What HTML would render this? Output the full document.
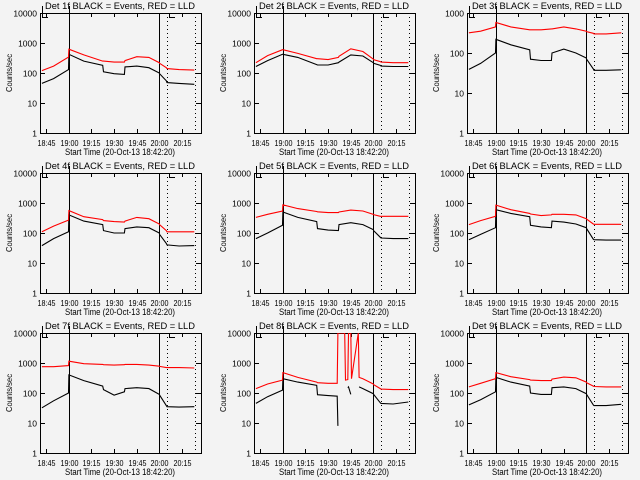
<!DOCTYPE html>
<html><head><meta charset="utf-8"><style>
html,body{margin:0;padding:0;background:#f3f3f3;}
svg{display:block;font-family:"Liberation Sans",sans-serif;}
</style></head><body>
<svg id="chart" width="640" height="480" viewBox="0 0 640 480"></svg>
<script>
// ---- data (minutes since 18:45) ----
const times = [-2.7, 5, 14.9, 15.1, 25, 37.5, 38, 45, 51.8, 52.2, 60, 68, 74.9, 75.1, 79.5, 80, 88, 98];
const times8 = [-2.7, 5, 14.9, 15.1, 25, 37.5, 38, 45, 51, 51.5, 56, 56.5, 58, 58.5, 60, 60.5, 65, 65.5, 68, 74.9, 75.1, 79.5, 80, 88, 98];
const detNames = ["Det 1f","Det 2f","Det 3f","Det 4f","Det 5f","Det 6f","Det 7f","Det 8f","Det 9f"];
const black1 = [45,65,130,420,250,180,110,95,90,160,170,150,100,95,55,48,45,42];
const red1   = [120,170,340,620,400,250,250,230,230,260,350,330,220,210,150,140,130,125];
const black2 = [165,260,420,420,330,190,185,185,220,230,400,370,220,210,180,170,165,165];
const red2   = [220,380,600,600,450,300,300,280,330,360,640,520,290,280,240,230,220,220];
const black3 = [39,55,100,220,160,120,70,65,65,100,125,100,75,70,40,37,37,38];
const red3   = [320,350,450,580,450,380,380,380,400,400,450,400,350,340,310,300,300,320];
const black4 = [38,65,110,400,250,190,120,100,100,140,160,150,100,90,45,40,37,38];
const red4   = [110,170,270,560,350,280,260,240,230,250,330,300,200,190,120,110,110,110];
const black5 = [65,100,180,500,330,240,140,125,120,190,220,190,130,120,72,68,65,65];
const red5   = [330,420,540,870,650,520,510,480,480,500,580,540,420,410,360,360,360,360];
const black6 = [60,90,150,600,450,350,180,160,150,250,230,200,150,140,62,60,58,58];
const red6   = [190,260,360,850,600,450,430,380,400,420,420,400,300,290,200,195,195,195];
const black7 = [32,55,100,400,260,170,130,85,110,140,150,140,90,85,38,35,34,35];
const red7   = [750,750,820,1150,950,900,880,850,880,900,900,850,780,770,700,700,700,680];
const black8 = [45,75,125,300,230,180,88,82,78,8,null,null,150,160,90,null,null,160,140,95,90,47,45,43,50];
const red8   = [140,200,270,480,330,230,220,210,210,10000,10000,270,280,10000,10000,300,10000,330,300,200,190,140,135,130,130];
const black9 = [40,60,110,330,230,170,100,90,90,150,160,140,95,90,40,38,38,42];
const red9   = [160,210,300,480,350,280,270,260,260,290,340,320,230,220,170,165,160,160];
const blacks = [black1,black2,black3,black4,black5,black6,black7,black8,black9];
const reds = [red1,red2,red3,red4,red5,red6,red7,red8,red9];
const decadesTop = [4,4,3,4,4,4,4,4,4];
const xTickLabels = ["18:45","19:00","19:15","19:30","19:45","20:00","20:15"];
const xTickTimes = [0,15,30,45,60,75,90];
const yTickLabels = ["1","10","100","1000","10000"];
const solidLines = [15,75];
const dottedLines = [80,98.5];

const NS="http://www.w3.org/2000/svg";
const svg=document.getElementById('chart');
function el(tag,attrs,parent){const e=document.createElementNS(NS,tag);for(const k in attrs)e.setAttribute(k,attrs[k]);(parent||svg).appendChild(e);return e;}
const L=40,R=201,T=13,B=133;
function xs(t){return 68.7+(t-15)*1.513;}

for(let p=0;p<9;p++){
  const ox=[0,214,427][p%3], oy=[0,160,320][Math.floor(p/3)];
  const g=el('g',{transform:`translate(${ox},${oy})`});
  
  
  const top=decadesTop[p];
  const ys=v=>B-(Math.log10(Math.max(v,1)))*(B-T)/top;
  const cid='clip'+p;
  const cp=el('clipPath',{id:cid},g);el('rect',{x:L,y:T,width:R-L,height:B-T},cp);
  const title=el('text',{x:120,y:9,'font-size':9.5,'text-anchor':'middle',textLength:150,lengthAdjust:'spacingAndGlyphs'},g);
  title.textContent=detNames[p]+" BLACK = Events, RED = LLD";
  
  
  const box=el('rect',{x:L+0.5,y:T+0.5,width:R-L,height:B-T,fill:'none',stroke:'#000','stroke-width':1},g);
  
  
  for(let d=0;d<=top;d++){
    const y=Math.round(ys(Math.pow(10,d)))+0.5;
    el('line',{x1:L,x2:L+5,y1:y,y2:y,stroke:'#000'},g);
    el('line',{x1:R-5,x2:R,y1:y,y2:y,stroke:'#000'},g);
    const tl=el('text',{x:37,y:y+3,'font-size':8.5,'text-anchor':'end'},g);
    tl.textContent=yTickLabels[d];
    
    
  }
  xTickTimes.forEach((t,i)=>{
    const x=Math.round(xs(t))+0.5;
    el('line',{x1:x,x2:x,y1:B,y2:B-4,stroke:'#000'},g);
    el('line',{x1:x,x2:x,y1:T,y2:T+4,stroke:'#000'},g);
    const tl=el('text',{x:x,y:146,'font-size':8.5,'text-anchor':'middle',textLength:18,lengthAdjust:'spacingAndGlyphs'},g);
    tl.textContent=xTickLabels[i];
    
    
  });
  const xl=el('text',{x:120,y:155,'font-size':9,'text-anchor':'middle',textLength:110,lengthAdjust:'spacingAndGlyphs'},g);
  xl.textContent="Start Time (20-Oct-13 18:42:20)";
  
  
  const yl=el('text',{x:0,y:0,'font-size':8.5,'text-anchor':'middle',transform:'translate(12,73) rotate(-90)',textLength:38,lengthAdjust:'spacingAndGlyphs'},g);
  yl.textContent="Counts/sec";
  
  
  solidLines.forEach((t,i)=>{
    const x=Math.round(xs(t))+0.5;
    const ln=el('line',{x1:x,x2:x,y1:i==0?6:T,y2:B,stroke:'#000','stroke-width':1},g);
    
    
  });
  dottedLines.forEach(t=>{
    const x=Math.round(xs(t))+0.5;
    const ln=el('line',{x1:x,x2:x,y1:T,y2:B,stroke:'#000','stroke-width':1,'stroke-dasharray':'1,3'},g);
    
    
  });
  el('polyline',{points:`42.5,6 42.5,17.5 48,17.5`,fill:'none',stroke:'#000'},g);
  el('polyline',{points:`175,13.5 169.5,13.5 169.5,17.5 175,17.5`,fill:'none',stroke:'#000'},g);
  const tt = p===7?times8:times;
  [[blacks[p],'#000','black-series'],[reds[p],'#ff0000','red-series']].forEach(([arr,col,nm])=>{
    let segs=[],cur=[];
    arr.forEach((v,i)=>{
      if(v===null){if(cur.length)segs.push(cur);cur=[];return;}
      cur.push(xs(tt[i]).toFixed(1)+','+ys(v).toFixed(1));
    });
    if(cur.length)segs.push(cur);
    segs.forEach(s=>{
      const pl=el('polyline',{points:s.join(' '),fill:'none',stroke:col,'stroke-width':1.1,'clip-path':`url(#${cid})`},g);
      
      
    });
  });
}
</script>
</body></html>
